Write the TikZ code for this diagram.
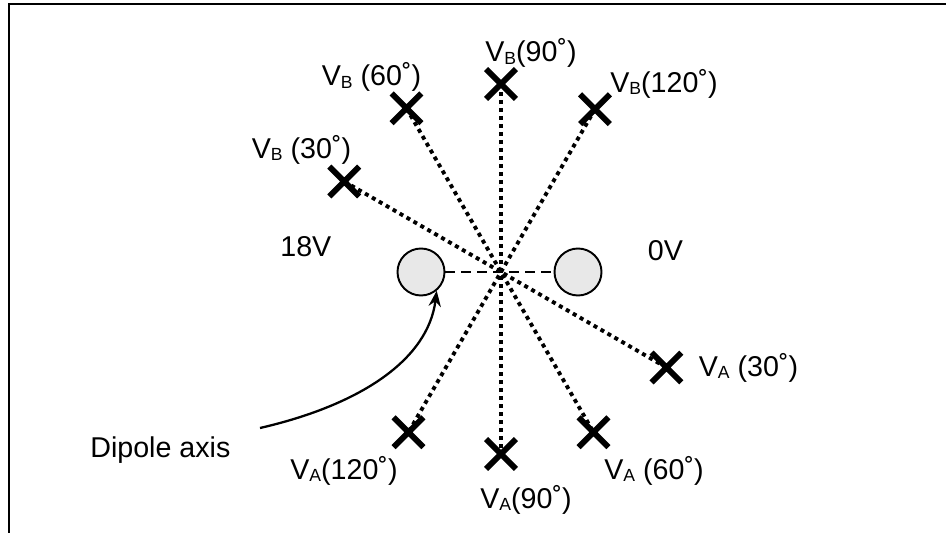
\documentclass[tikz,border=0pt]{standalone}
\usepackage{fontspec}
\setmainfont{Liberation Sans}
\usetikzlibrary{shapes.misc,arrows.meta}
\newcommand{\vsub}[1]{V\raisebox{-1.4pt}{\fontsize{10}{10}\selectfont #1}}
\newcommand{\probe}[3]
{\node[xmark] (#1) at (#2:#3) {};
}
\tikzset{xmark/.style={cross out,draw,line width=3.3pt,minimum size=0.48cm,inner sep=0pt},
	lbl/.style={anchor=base west,inner sep=0pt,font=\fontsize{16.3}{19}\selectfont},
	electrode/.style={circle,draw,line width=1.1pt,fill=black!9,minimum size=0.94cm,inner sep=0pt}}

\begin{document}
\begin{tikzpicture}[>=latex]
\useasboundingbox (-10.02,-5.22) rectangle (8.90,5.44);
\draw[line width=1.2pt] (-9.84,-5.22) -- (-9.84,5.36) -- (8.90,5.36);

% electrodes
\node[electrode] (L) at (-1.60,0) {};
\node[electrode] (R) at (1.54,0) {};
\draw[line width=1.2pt,dash pattern=on 0.2cm off 0.12cm] (L) -- (R);

% probe points
\probe{B30}{150}{3.62}
\probe{A30}{-30}{3.82}
\probe{B60}{120}{3.78}
\probe{A60}{-60}{3.70}
\probe{B90}{90}{3.76}
\probe{A90}{-90}{3.64}
\probe{B120}{60}{3.76}
\probe{A120}{-120}{3.70}
\foreach \a in {30,60,90,120}
		{\draw[line width=2.2pt,dash pattern=on 0.08cm off 0.08cm] (B\a.center) -- (A\a.center);
			};

% labels
\node[lbl] (tB90) at (-0.32,4.20) {\vsub{B}(90˚)};
\node[lbl] (tB60) at (-3.59,3.72) {\vsub{B} (60˚)};
\node[lbl] (tB30) at (-4.99,2.27) {\vsub{B} (30˚)};
\node[lbl] (tB120) at (2.18,3.59) {\vsub{B}(120˚)};
\node[lbl] (hi) at (-4.42,0.31) {18V};
\node[lbl] (lo) at (2.93,0.23) {0V};
\node[lbl] (tA30) at (3.95,-2.09) {\vsub{A} (30˚)};
\node[lbl] (tA120) at (-4.22,-4.14) {\vsub{A}(120˚)};
\node[lbl] (tA90) at (-0.42,-4.73) {\vsub{A}(90˚)};
\node[lbl] (tA60) at (2.06,-4.15) {\vsub{A} (60˚)};
\node[lbl] (axis) at (-8.22,-3.71) {Dipole axis};

\coordinate (tail) at (-4.82,-3.12);
\draw[-{Stealth[length=9pt,width=7pt]},line width=1.3pt] (tail) .. controls (-2.82,-2.66) and (-1.46,-1.76) .. (L.-50);
\end{tikzpicture}
\end{document}
